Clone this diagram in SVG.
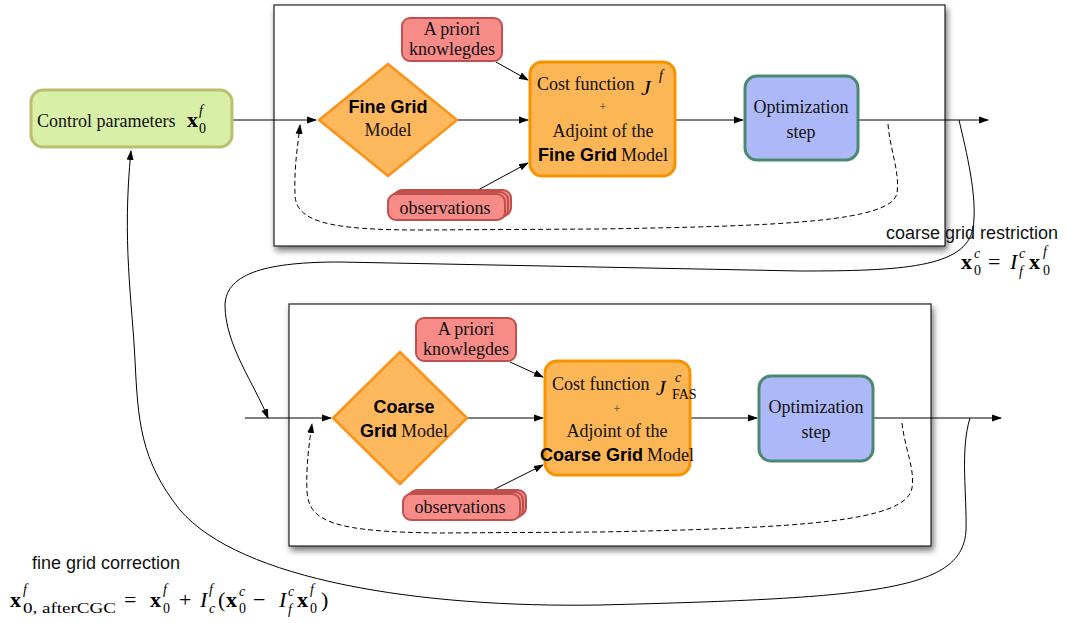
<svg xmlns="http://www.w3.org/2000/svg" width="1067" height="623" viewBox="0 0 1067 623">
<defs>
<filter id="shadow" x="-5%" y="-5%" width="110%" height="115%">
<feDropShadow dx="2" dy="4" stdDeviation="3" flood-color="#000" flood-opacity="0.55"/>
</filter>
<marker id="arr" viewBox="0 0 10 10" refX="9" refY="5" markerWidth="10" markerHeight="10" markerUnits="userSpaceOnUse" orient="auto">
<path d="M0,1.5 L10,5 L0,8.5 Z" fill="#000"/>
</marker>
</defs>
<style>
.panel{fill:#fff;stroke:#222;stroke-width:1.2;filter:url(#shadow)}
.ctrl{fill:#d8efa8;stroke:#bcbf6e;stroke-width:3}
.dia{fill:#fdb75c;stroke:#f9931a;stroke-width:2.5;stroke-linejoin:round}
.cost{fill:#fdb655;stroke:#f79200;stroke-width:3}
.apr{fill:#f78b88;stroke:#c0504d;stroke-width:2}
.opt{fill:#adb8f8;stroke:#4b8a70;stroke-width:3}
.ln{fill:none;stroke:#000;stroke-width:1}
.dash{fill:none;stroke:#000;stroke-width:1;stroke-dasharray:5,3}
.ser{font-family:"Liberation Serif",serif;font-size:18px;fill:#111}
.plus{font-family:"Liberation Serif",serif;font-size:12px;fill:#333}
.bold{font-family:"Liberation Sans",sans-serif;font-weight:bold;font-size:18px;fill:#000}
.sans{font-family:"Liberation Sans",sans-serif;font-size:18px;fill:#111}
.mx{font-family:"Liberation Serif",serif;font-weight:bold;font-size:22px;fill:#000}
.mi{font-family:"Liberation Serif",serif;font-style:italic;font-size:22px;fill:#000}
.ms{font-family:"Liberation Serif",serif;font-style:italic;font-size:14px;fill:#000}
.mn{font-family:"Liberation Serif",serif;font-size:14px;fill:#000}
.mo{font-family:"Liberation Serif",serif;font-size:22px;fill:#000}
</style>

<rect class="panel" x="274" y="5" width="671" height="241"/>
<rect class="panel" x="289" y="304" width="642" height="242"/>

<g id="connectors">
<line class="ln" x1="232" y1="120" x2="316" y2="120" marker-end="url(#arr)"/>
<line class="ln" x1="458" y1="120" x2="528" y2="120" marker-end="url(#arr)"/>
<line class="ln" x1="496" y1="62" x2="528" y2="80" marker-end="url(#arr)"/>
<line class="ln" x1="478" y1="190" x2="528" y2="163" marker-end="url(#arr)"/>
<line class="ln" x1="675" y1="120" x2="743" y2="120" marker-end="url(#arr)"/>
<line class="ln" x1="858" y1="120" x2="988" y2="120" marker-end="url(#arr)"/>
<path class="dash" d="M888,124 C890,150 900,172 897,193 C892,222 780,226 600,229 L420,230 C330,230 296,222 295,195 C294,165 298,145 300,125" marker-end="url(#arr)"/>

<line class="ln" x1="245" y1="418" x2="331" y2="418" marker-end="url(#arr)"/>
<line class="ln" x1="467" y1="418" x2="543" y2="418" marker-end="url(#arr)"/>
<line class="ln" x1="510" y1="362" x2="543" y2="377" marker-end="url(#arr)"/>
<line class="ln" x1="493" y1="490" x2="543" y2="465" marker-end="url(#arr)"/>
<line class="ln" x1="690" y1="418" x2="757" y2="418" marker-end="url(#arr)"/>
<line class="ln" x1="873" y1="418" x2="1001" y2="418" marker-end="url(#arr)"/>
<path class="dash" d="M902,423 C905,450 915,468 912,488 C906,522 800,528 600,532 L440,533 C335,532 309,522 307,492 C306,465 309,445 312,424" marker-end="url(#arr)"/>

<path class="ln" d="M959,120 C966,150 978,198 973,228 C966,268 900,271 800,271 L340,262 C270,262 226,272 225,305 C225,345 255,385 268,418" marker-end="url(#arr)"/>
<path class="ln" d="M970,418 C960,450 967,495 966,530 C963,590 880,598 600,605 C420,608 240,580 180,510 C140,460 138,420 135,360 C132,300 122,240 131,151" marker-end="url(#arr)"/>
</g>

<g id="control">
<rect class="ctrl" x="31" y="90" width="201" height="57" rx="12"/>
<text class="ser" x="37" y="127">Control parameters</text>
<text class="mx" x="187" y="127">x</text>
<text class="ms" x="199" y="115">f</text>
<text class="mn" x="199" y="133">0</text>
</g>

<g id="fine-model">
<path class="dia" d="M388,64 L457,120 L388,176 L319,120 Z"/>
<text class="bold" x="388" y="113" text-anchor="middle">Fine Grid</text>
<text class="ser" x="388" y="136" text-anchor="middle">Model</text>
</g>

<g id="fine-apriori">
<rect class="apr" x="402" y="18" width="100" height="43" rx="8"/>
<text class="ser" x="452" y="35" text-anchor="middle">A priori</text>
<text class="ser" x="452" y="55" text-anchor="middle">knowlegdes</text>
</g>

<g id="fine-obs">
<rect class="apr" x="394" y="190" width="117" height="26" rx="8"/>
<rect class="apr" x="391" y="192" width="117" height="26" rx="8"/>
<rect class="apr" x="388" y="194" width="117" height="26" rx="8"/>
<text class="ser" x="445" y="214" text-anchor="middle">observations</text>
</g>

<g id="fine-cost">
<rect class="cost" x="530" y="62" width="145" height="114" rx="12"/>
<text class="ser" x="537" y="90">Cost function</text>
<text class="mi" x="641" y="95" font-size="26">J</text>
<text class="ms" x="659" y="80" font-size="15">f</text>
<text class="plus" x="603" y="111" text-anchor="middle">+</text>
<text class="ser" x="603" y="137" text-anchor="middle">Adjoint of the</text>
<text x="603" y="161" text-anchor="middle"><tspan class="bold">Fine Grid</tspan><tspan class="ser" dx="4">Model</tspan></text>
</g>

<g id="fine-opt">
<rect class="opt" x="745" y="76" width="113" height="84" rx="12"/>
<text class="ser" x="801" y="113" text-anchor="middle">Optimization</text>
<text class="ser" x="801" y="138" text-anchor="middle">step</text>
</g>

<g id="coarse-model">
<path class="dia" d="M400,352 L467,418 L400,484 L333,418 Z"/>
<text class="bold" x="404" y="413" text-anchor="middle">Coarse</text>
<text x="404" y="437" text-anchor="middle"><tspan class="bold">Grid</tspan><tspan class="ser" dx="4">Model</tspan></text>
</g>

<g id="coarse-apriori">
<rect class="apr" x="416" y="318" width="100" height="43" rx="8"/>
<text class="ser" x="466" y="335" text-anchor="middle">A priori</text>
<text class="ser" x="466" y="355" text-anchor="middle">knowlegdes</text>
</g>

<g id="coarse-obs">
<rect class="apr" x="409" y="490" width="117" height="26" rx="8"/>
<rect class="apr" x="406" y="492" width="117" height="26" rx="8"/>
<rect class="apr" x="403" y="494" width="117" height="26" rx="8"/>
<text class="ser" x="460" y="513" text-anchor="middle">observations</text>
</g>

<g id="coarse-cost">
<rect class="cost" x="545" y="361" width="145" height="114" rx="12"/>
<text class="ser" x="552" y="390">Cost function</text>
<text class="mi" x="656" y="395" font-size="26">J</text>
<text class="ms" x="675" y="382" font-size="15">c</text>
<text class="mn" x="672" y="399" font-size="15">FAS</text>
<text class="plus" x="617" y="413" text-anchor="middle">+</text>
<text class="ser" x="617" y="437" text-anchor="middle">Adjoint of the</text>
<text x="617" y="461" text-anchor="middle"><tspan class="bold">Coarse Grid</tspan><tspan class="ser" dx="4">Model</tspan></text>
</g>

<g id="coarse-opt">
<rect class="opt" x="759" y="376" width="114" height="85" rx="12"/>
<text class="ser" x="816" y="413" text-anchor="middle">Optimization</text>
<text class="ser" x="816" y="438" text-anchor="middle">step</text>
</g>

<g id="restriction-label">
<text class="sans" x="886" y="239">coarse grid restriction</text>
<text class="mx" x="961" y="269">x</text>
<text class="ms" x="974" y="258">c</text>
<text class="mn" x="974" y="275">0</text>
<text class="mo" x="988" y="269">=</text>
<text class="mi" x="1010" y="269">I</text>
<text class="ms" x="1019" y="258">c</text>
<text class="ms" x="1019" y="276">f</text>
<text class="mx" x="1029" y="269">x</text>
<text class="ms" x="1043" y="256">f</text>
<text class="mn" x="1043" y="275">0</text>
</g>

<g id="correction-label">
<text class="sans" x="32" y="569">fine grid correction</text>
<text class="mx" x="10" y="607">x</text>
<text class="ms" x="23" y="594">f</text>
<text class="mn" x="23" y="613" textLength="93" lengthAdjust="spacingAndGlyphs">0, afterCGC</text>
<text class="mo" x="124" y="607">=</text>
<text class="mx" x="150" y="607">x</text>
<text class="ms" x="163" y="594">f</text>
<text class="mn" x="163" y="613">0</text>
<text class="mo" x="179" y="607">+</text>
<text class="mi" x="200" y="607">I</text>
<text class="ms" x="209" y="594">f</text>
<text class="ms" x="209" y="613">c</text>
<text class="mo" x="218" y="607">(</text>
<text class="mx" x="226" y="607">x</text>
<text class="ms" x="239" y="596">c</text>
<text class="mn" x="239" y="613">0</text>
<text class="mo" x="253" y="607">−</text>
<text class="mi" x="279" y="607">I</text>
<text class="ms" x="288" y="596">c</text>
<text class="ms" x="288" y="614">f</text>
<text class="mx" x="297" y="607">x</text>
<text class="ms" x="310" y="594">f</text>
<text class="mn" x="310" y="613">0</text>
<text class="mo" x="321" y="607">)</text>
</g>
</svg>
